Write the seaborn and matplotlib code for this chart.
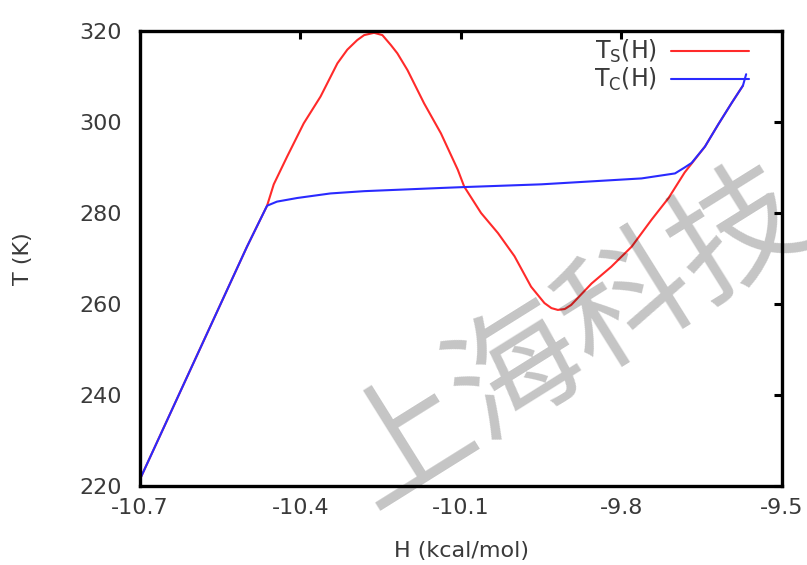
import numpy as np
import pandas as pd
import matplotlib
matplotlib.use("Agg")
import matplotlib.pyplot as plt
import seaborn as sns

# ---- data ----
H_s = [-10.70, -10.50, -10.4625, -10.450, -10.425, -10.394,
       -10.3625, -10.331, -10.3125, -10.294, -10.281, -10.2625, -10.247,
       -10.231, -10.219, -10.200, -10.169, -10.1375,
       -10.106, -10.094, -10.0625, -10.031, -10.000, -9.969, -9.944, -9.931,
       -9.919, -9.906, -9.894, -9.856, -9.819, -9.781, -9.744, -9.712, -9.682,
       -9.644, -9.619, -9.594, -9.573]
T_s = [221.5, 272.6, 281.6, 286.3, 292.4, 299.7,
       305.6, 312.9, 315.9, 318.0, 319.1, 319.6, 319.1,
       316.9, 315.1, 311.4, 304.1, 297.5,
       289.5, 285.8, 280.0, 275.6, 270.5, 263.8, 260.2, 259.1,
       258.7, 258.9, 259.8, 264.5, 268.2, 272.6, 278.5, 283.3, 288.9,
       294.6, 299.5, 304.2, 308.0]

H_c = [-10.70, -10.50, -10.4625, -10.444, -10.406, -10.344,
       -10.281, -10.1375, -10.094, -9.95, -9.7625, -9.70, -9.682, -9.669,
       -9.644, -9.619, -9.594, -9.573, -9.567]
T_c = [221.5, 272.6, 281.6, 282.5, 283.3, 284.3,
       284.8, 285.5, 285.7, 286.3, 287.6, 288.7, 290.0, 291.0,
       294.6, 299.5, 304.2, 308.0, 310.5]

x_ticks = [-10.7, -10.4, -10.1, -9.8, -9.5]
x_tick_labels = ["-10.7", "-10.4", "-10.1", "-9.8", "-9.5"]
y_ticks = [220, 240, 260, 280, 300, 320]
y_tick_labels = ["220", "240", "260", "280", "300", "320"]

label_s = r"T$_\mathregular{S}$(H)"
label_c = r"T$_\mathregular{C}$(H)"
watermark = "上海科技"

# ---- style ----
sns.set_style("white")
plt.rcParams["font.family"] = ["DejaVu Sans"]
plt.rcParams["axes.unicode_minus"] = False
plt.rcParams["mathtext.default"] = "regular"

text_color = "#3a3a3a"
fs = 16

fig = plt.figure(figsize=(8.07, 5.65), dpi=100)
ax = fig.add_axes([140 / 807, 1 - 486 / 565, 642 / 807, 455 / 565])

df_s = pd.DataFrame({"H": H_s, "T": T_s})
df_c = pd.DataFrame({"H": H_c, "T": T_c})

sns.lineplot(data=df_s, x="H", y="T", ax=ax, color="#ff2a2a", lw=1.5,
             sort=False, estimator=None, label=label_s)
sns.lineplot(data=df_c, x="H", y="T", ax=ax, color="#2a2aff", lw=1.5,
             sort=False, estimator=None, label=label_c)

ax.set_xlim(-10.7, -9.5)
ax.set_ylim(220, 320)
ax.set_xticks(x_ticks)
ax.set_xticklabels(x_tick_labels)
ax.set_yticks(y_ticks)
ax.set_yticklabels(y_tick_labels)
ax.tick_params(direction="in", length=6, width=2.2, top=True, right=True,
               labelsize=fs, labelcolor=text_color, color="black")
ax.tick_params(axis="x", pad=9)
ax.tick_params(axis="y", pad=13)
for sp in ax.spines.values():
    sp.set_visible(True)
    sp.set_linewidth(2.4)
    sp.set_color("black")

ax.set_xlabel("H (kcal/mol)", fontsize=fs, color=text_color, labelpad=16)
ax.set_ylabel("T (K)", fontsize=fs, color=text_color, labelpad=33)

leg = ax.legend(loc="upper right", bbox_to_anchor=(0.9486, 0.984),
                frameon=False, markerfirst=False, fontsize=17,
                handlelength=3.3, handletextpad=0.6, borderpad=0,
                borderaxespad=0, labelspacing=0.02)
for t in leg.get_texts():
    t.set_color(text_color)

fig.text(574 / 807, 1 - 338 / 565, watermark, rotation=32, fontsize=94,
         family=["Noto Sans CJK SC", "DejaVu Sans"], color="black", alpha=0.23,
         ha="center", va="center", zorder=20, rotation_mode="anchor")

fig.savefig("out.png", dpi=100)
